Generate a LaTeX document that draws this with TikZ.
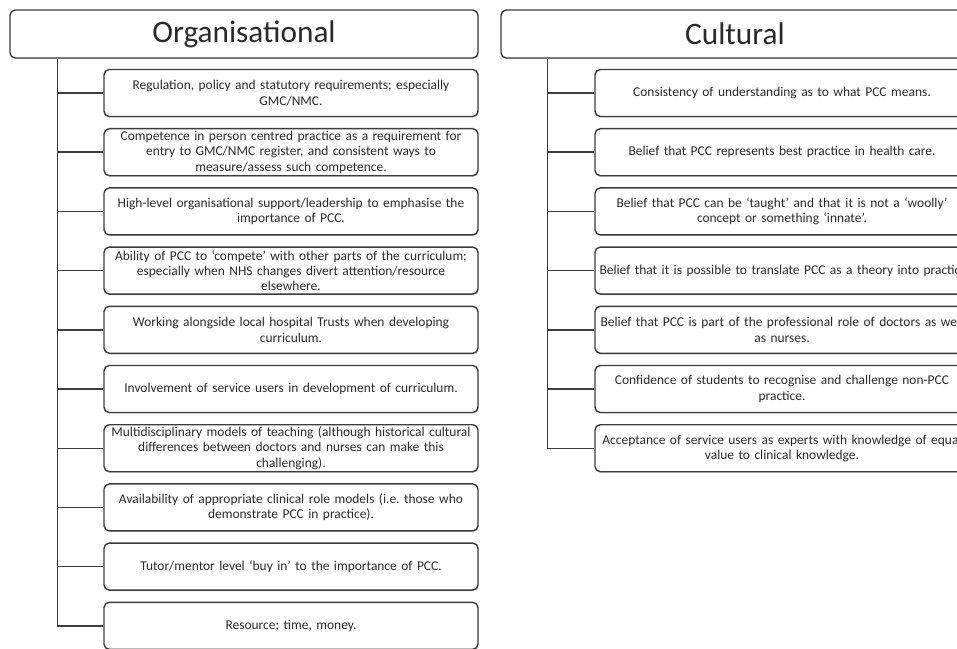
\documentclass[tikz,border=0pt]{standalone}
\usepackage{fontspec}
\setmainfont{Carlito}
\usepackage{tikz}
\usetikzlibrary{calc}
\usetikzlibrary{shapes.misc}
\usetikzlibrary{arrows.meta,shadows,backgrounds}
\definecolor{boxline}{HTML}{3C3C3C}
\definecolor{boxtext}{HTML}{2A2A2A}
\tikzstyle{headbox} = [rectangle, draw=boxline, line width=0.8pt, rounded corners=3pt, minimum width=9.36cm, minimum height=0.96cm, text centered, fill=white, text=boxtext, font=\fontsize{17.8}{20}\selectfont, drop shadow={shadow xshift=0.4pt, shadow yshift=-0.6pt, opacity=0.35}]
\tikzstyle{itembox} = [rectangle, draw=boxline, line width=0.8pt, rounded corners=3pt, text width=7.3cm, inner xsep=0.09cm, inner ysep=0.5pt, minimum height=0.94cm, align=center, fill=white, text=boxtext, font=\fontsize{7.65}{8.7}\selectfont, drop shadow={shadow xshift=0.4pt, shadow yshift=-0.6pt, opacity=0.35}]
\tikzstyle{branch} = [line width=0.8pt, draw=boxline]

\begin{document}
\begin{tikzpicture}

    \useasboundingbox (0,0) rectangle (19.14,-12.96);
    \clip (0,0) rectangle (19.14,-12.96);

    % Organisational side
    \node[headbox] (org) at (4.88,-0.68) {Organisational};

    \node[itembox] (o1) at (5.82,-1.86) {
        Regulation, policy and statutory requirements; especially\\
        GMC/NMC.
    };
    \node[itembox] (o2) at (5.82,-3.044) {
        Competence in person centred practice as a requirement for\\
        entry to GMC/NMC register, and consistent ways to\\
        measure/assess such competence.
    };
    \node[itembox] (o3) at (5.82,-4.228) {
        High-level organisational support/leadership to emphasise the\\
        importance of PCC.
    };
    \node[itembox] (o4) at (5.82,-5.412) {
        Ability of PCC to `compete' with other parts of the curriculum;\\
        especially when NHS changes divert attention/resource\\
        elsewhere.
    };
    \node[itembox] (o5) at (5.82,-6.596) {
        Working alongside local hospital Trusts when developing\\
        curriculum.
    };
    \node[itembox] (o6) at (5.82,-7.78) {
        Involvement of service users in development of curriculum.
    };
    \node[itembox] (o7) at (5.82,-8.964) {
        Multidisciplinary models of teaching (although historical cultural\\
        differences between doctors and nurses can make this\\
        challenging).
    };
    \node[itembox] (o8) at (5.82,-10.148) {
        Availability of appropriate clinical role models (i.e.\ those who\\
        demonstrate PCC in practice).
    };
    \node[itembox] (o9) at (5.82,-11.332) {
        Tutor/mentor level `buy in' to the importance of PCC.
    };
    \node[itembox] (o10) at (5.82,-12.516) {
        Resource; time, money.
    };

    % Cultural side
    \node[headbox] (cult) at (14.7,-0.68) {Cultural};

    \node[itembox] (c1) at (15.64,-1.86) {
        Consistency of understanding as to what PCC means.
    };
    \node[itembox] (c2) at (15.64,-3.044) {
        Belief that PCC represents best practice in health care.
    };
    \node[itembox] (c3) at (15.64,-4.228) {
        Belief that PCC can be `taught' and that it is not a `woolly'\\
        concept or something `innate'.
    };
    \node[itembox] (c4) at (15.64,-5.412) {
        \mbox{Belief that it is possible to translate PCC as a theory into practice.}
    };
    \node[itembox] (c5) at (15.64,-6.596) {
        Belief that PCC is part of the professional role of doctors as well\\
        as nurses.
    };
    \node[itembox] (c6) at (15.64,-7.78) {
        Confidence of students to recognise and challenge non-PCC\\
        practice.
    };
    \node[itembox] (c7) at (15.64,-8.964) {
        Acceptance of service users as experts with knowledge of equal\\
        value to clinical knowledge.
    };

    \begin{scope}[on background layer]
    \coordinate (orgtrunk) at ($(org.south west)+(0.96,0)$);
    \draw [branch] (orgtrunk) |- (o10.west);
    \draw [branch] (o1.west) -- (o1.west -| orgtrunk);
    \draw [branch] (o2.west) -- (o2.west -| orgtrunk);
    \draw [branch] (o3.west) -- (o3.west -| orgtrunk);
    \draw [branch] (o4.west) -- (o4.west -| orgtrunk);
    \draw [branch] (o5.west) -- (o5.west -| orgtrunk);
    \draw [branch] (o6.west) -- (o6.west -| orgtrunk);
    \draw [branch] (o7.west) -- (o7.west -| orgtrunk);
    \draw [branch] (o8.west) -- (o8.west -| orgtrunk);
    \draw [branch] (o9.west) -- (o9.west -| orgtrunk);

    \coordinate (culttrunk) at ($(cult.south west)+(0.94,0)$);
    \draw [branch] (culttrunk) |- (c7.west);
    \draw [branch] (c1.west) -- (c1.west -| culttrunk);
    \draw [branch] (c2.west) -- (c2.west -| culttrunk);
    \draw [branch] (c3.west) -- (c3.west -| culttrunk);
    \draw [branch] (c4.west) -- (c4.west -| culttrunk);
    \draw [branch] (c5.west) -- (c5.west -| culttrunk);
    \draw [branch] (c6.west) -- (c6.west -| culttrunk);
    \end{scope}

\end{tikzpicture}
\end{document}
